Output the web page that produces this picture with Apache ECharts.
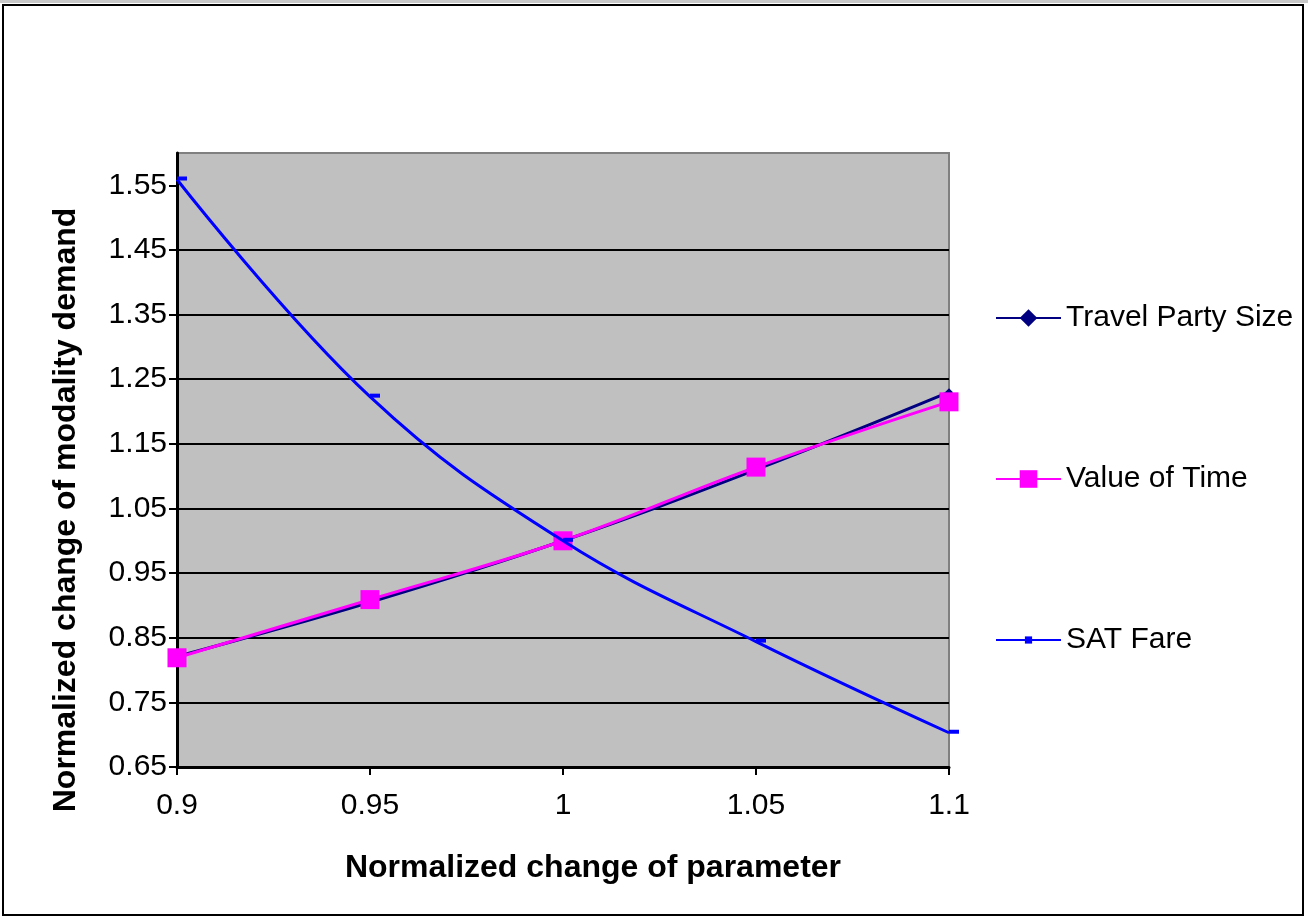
<!DOCTYPE html>
<html>
<head>
<meta charset="utf-8">
<script src="https://cdn.jsdelivr.net/npm/echarts@6/dist/echarts.min.js"></script>
<style>
html,body{margin:0;padding:0;background:#fff;}
#frame{position:absolute;left:0;top:0;width:1308px;height:920px;box-sizing:border-box;border-top:3px solid #c8c8c8;}
#chart{position:absolute;left:2px;top:4px;width:1302px;height:912px;box-sizing:border-box;border:2px solid #000;}
</style>
</head>
<body>
<div id="frame"></div>
<div id="chart"></div>
<script>
const xValues = [0.9, 0.95, 1.0, 1.05, 1.1];
const travelPartySize = [0.821, 0.905, 1.0, 1.110, 1.230];
const valueOfTime = [0.819, 0.909, 1.0, 1.114, 1.215];
const satFare = [1.559, 1.223, 1.0, 0.844, 0.703];
const yTicks = [0.65, 0.75, 0.85, 0.95, 1.05, 1.15, 1.25, 1.35, 1.45, 1.55];
const seriesNames = ['Travel Party Size', 'Value of Time', 'SAT Fare'];
const xTitle = 'Normalized change of parameter';
const yTitle = 'Normalized change of modality demand';

const FONT = '"Liberation Sans", Arial, sans-serif';
const pairs = ys => xValues.map((x, i) => [x, ys[i]]);

const chart = echarts.init(document.getElementById('chart'), null, {renderer: 'canvas'});
// chart div content offset in page: left 4, top 6
const OX = 4, OY = 6;
const legendBase = {
  orient: 'vertical', left: 990 - OX, itemWidth: 65, itemHeight: 22, itemGap: 10,
  textStyle: {fontFamily: FONT, fontSize: 30, color: '#000'}
};
chart.setOption({
  animation: false,
  grid: {
    left: 177 - OX, top: 153 - OY, width: 772, height: 614,
    show: true, backgroundColor: '#C0C0C0', borderColor: '#808080', borderWidth: 2,
    containLabel: false
  },
  legend: [
    Object.assign({}, legendBase, {data: [seriesNames[0]], top: 298 - OY}),
    Object.assign({}, legendBase, {data: [seriesNames[1]], top: 459 - OY}),
    Object.assign({}, legendBase, {data: [seriesNames[2]], top: 620 - OY, itemHeight: 9})
  ],
  xAxis: {
    type: 'value', min: 0.9, max: 1.1, interval: 0.05,
    axisLine: {show: true, lineStyle: {color: '#000', width: 3}},
    axisTick: {show: true, inside: false, length: 8, lineStyle: {color: '#000', width: 2}},
    splitLine: {show: false},
    axisLabel: {
      fontFamily: FONT, fontSize: 30, color: '#000', margin: 24,
      formatter: v => String(+v.toFixed(2))
    }
  },
  yAxis: {
    type: 'value', min: 0.65, max: 1.6, interval: 0.1,
    axisLine: {show: true, lineStyle: {color: '#000', width: 3}},
    axisTick: {show: true, inside: false, length: 8, customValues: yTicks, lineStyle: {color: '#000', width: 2}},
    splitLine: {show: true, showMinLine: false, showMaxLine: false, lineStyle: {color: '#000', width: 2}},
    axisLabel: {
      fontFamily: FONT, fontSize: 30, color: '#000', margin: 10,
      customValues: yTicks,
      formatter: v => (Math.abs(v - 1.6) < 1e-6 ? '' : v.toFixed(2))
    }
  },
  graphic: [
    {
      type: 'text', x: 593 - OX, y: 868 - OY,
      style: {text: xTitle, font: 'bold 32px ' + FONT, fill: '#000', align: 'center', verticalAlign: 'middle'}
    },
    {
      type: 'text', x: 66 - OX, y: 510 - OY, rotation: Math.PI / 2,
      style: {text: yTitle, font: 'bold 32px ' + FONT, fill: '#000', align: 'center', verticalAlign: 'middle'}
    }
  ],
  series: [
    {
      name: seriesNames[0], type: 'line', data: pairs(travelPartySize), smooth: 0.4,
      symbol: 'diamond', symbolSize: 8,
      lineStyle: {color: '#000080', width: 3}, itemStyle: {color: '#000080'}, z: 2
    },
    {
      name: seriesNames[1], type: 'line', data: pairs(valueOfTime), smooth: 0.4,
      symbol: 'rect', symbolSize: 19,
      lineStyle: {color: '#FF00FF', width: 3}, itemStyle: {color: '#FF00FF'}, z: 3
    },
    {
      name: seriesNames[2], type: 'line', data: pairs(satFare), smooth: 0.4,
      symbol: 'rect', symbolSize: [10, 4], symbolOffset: [5, -1],
      lineStyle: {color: '#0000FF', width: 3}, itemStyle: {color: '#0000FF'}, z: 4
    }
  ]
});
</script>
</body>
</html>
